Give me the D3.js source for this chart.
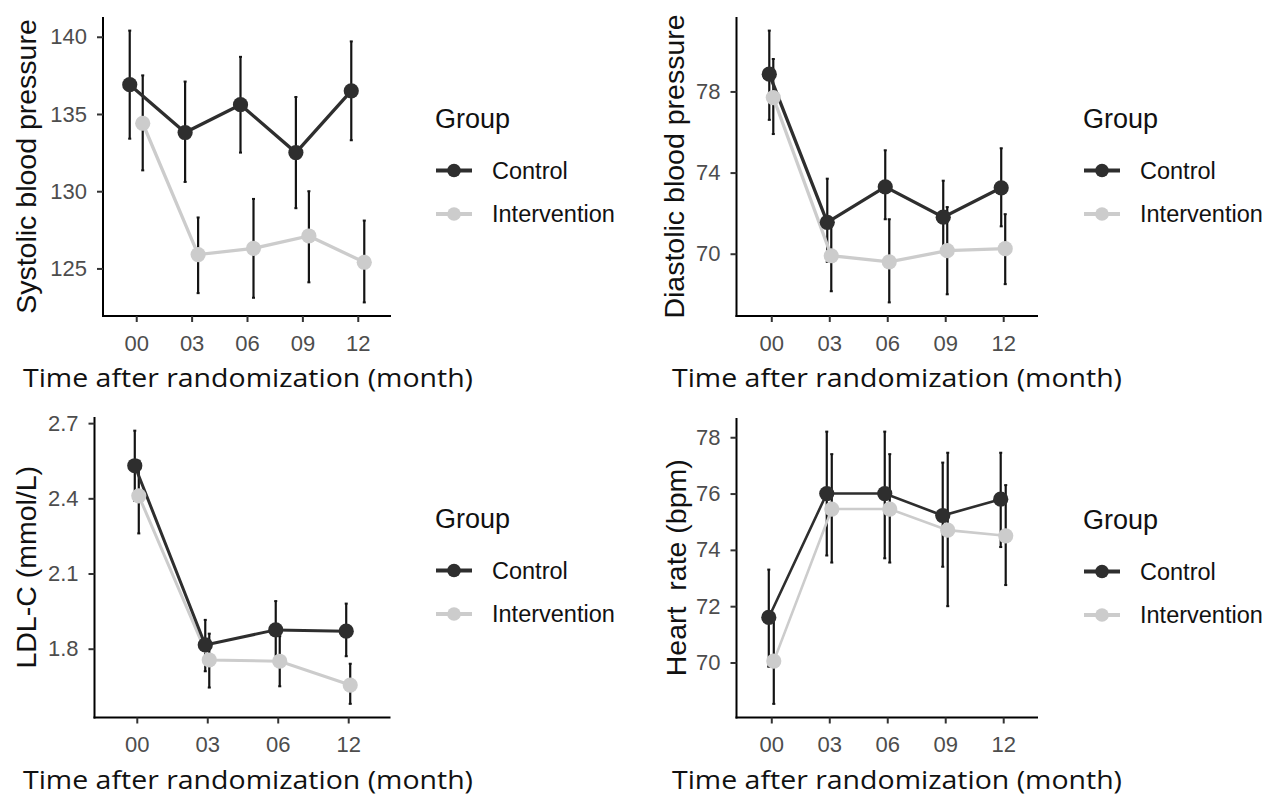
<!DOCTYPE html>
<html>
<head>
<meta charset="utf-8">
<script src="https://cdn.jsdelivr.net/npm/d3@7"></script>
<style>
  body { margin: 0; background: #fff; }
  svg { display: block; }
</style>
</head>
<body>
<div id="graph"></div>
<script>
// categories
const months5 = ["00", "03", "06", "09", "12"];
const months4 = ["00", "03", "06", "12"];
const groupNames = ["Control", "Intervention"];

// each entry: [mean, lower, upper]
const sbpControl      = [[136.9, 133.4, 140.4], [133.8, 130.6, 137.1], [135.6, 132.5, 138.7], [132.5, 128.9, 136.1], [136.5, 133.3, 139.7]];
const sbpIntervention = [[134.4, 131.35, 137.5], [125.9, 123.4, 128.3], [126.3, 123.1, 129.5], [127.1, 124.1, 130.0], [125.4, 122.8, 128.1]];

const dbpControl      = [[78.85, 76.6, 81.0], [71.55, 69.6, 73.7], [73.3, 71.7, 75.1], [71.8, 70.0, 73.6], [73.25, 71.35, 75.2]];
const dbpIntervention = [[77.7, 75.9, 79.6], [69.9, 68.15, 71.7], [69.6, 67.6, 71.7], [70.15, 68.0, 72.3], [70.25, 68.5, 71.95]];

const ldlControl      = [[2.53, 2.39, 2.67], [1.815, 1.71, 1.915], [1.875, 1.76, 1.99], [1.87, 1.77, 1.98]];
const ldlIntervention = [[2.41, 2.26, 2.55], [1.755, 1.645, 1.86], [1.75, 1.65, 1.85], [1.655, 1.58, 1.74]];

const hrControl      = [[71.6, 69.85, 73.3], [76.0, 73.8, 78.2], [76.0, 73.7, 78.2], [75.22, 73.4, 77.1], [75.8, 74.1, 77.45]];
const hrIntervention = [[70.05, 68.53, 71.6], [75.45, 73.55, 77.4], [75.45, 73.55, 77.4], [74.7, 72.0, 77.45], [74.5, 72.75, 76.3]];

// tick labels
const sbpTicks = [125, 130, 135, 140];
const dbpTicks = [70, 74, 78];
const ldlTicks = [1.8, 2.1, 2.4, 2.7];
const hrTicks  = [70, 72, 74, 76, 78];

const colors = ["#2e2e2e", "#cccccc"];
const W = 1266, H = 798;

const svg = d3.select("#graph").append("svg")
    .attr("width", W)
    .attr("height", H);

svg.append("rect").attr("width", W).attr("height", H).attr("fill", "#fff");

const panels = [
  {ylab: "Systolic blood pressure", months: months5, series: [sbpControl, sbpIntervention], ticks: sbpTicks, fmt: d3.format("d"),
   x0: 103, x1: 391, y0: 17, y1: 316, dodge: 6.5, lw: 3.3, legX: 435, xlabX: 248, ylabX: 35.5},
  {ylab: "Diastolic blood pressure", months: months5, series: [dbpControl, dbpIntervention], ticks: dbpTicks, fmt: d3.format("d"),
   x0: 736.5, x1: 1038, y0: 17, y1: 316, dodge: 2, lw: 3.3, legX: 1083, xlabX: 897, ylabX: 684},
  {ylab: "LDL-C (mmol/L)", months: months4, series: [ldlControl, ldlIntervention], ticks: ldlTicks, fmt: d3.format(".1f"),
   x0: 94.5, x1: 390.5, y0: 417, y1: 717.5, dodge: 2, lw: 3, legX: 435, xlabX: 248, ylabX: 35.5},
  {ylab: "Heart  rate (bpm)", months: months5, series: [hrControl, hrIntervention], ticks: hrTicks, fmt: d3.format("d"),
   x0: 736.5, x1: 1038, y0: 418, y1: 717.5, dodge: 2.5, lw: 2.6, legX: 1083, xlabX: 897, ylabX: 685.5}
];

panels.forEach(function(p) {
  const g = svg.append("g");

  const x = d3.scalePoint()
      .domain(p.months)
      .range([p.x0, p.x1])
      .padding(0.6);

  const lo = d3.min(p.series, s => d3.min(s, d => d[1]));
  const hi = d3.max(p.series, s => d3.max(s, d => d[2]));
  const pad = (hi - lo) * 0.05;
  const y = d3.scaleLinear()
      .domain([lo - pad, hi + pad])
      .range([p.y1, p.y0]);

  // axes
  const xAxis = g.append("g")
      .attr("transform", "translate(0," + p.y1 + ")")
      .call(d3.axisBottom(x).tickSize(6).tickSizeOuter(0).tickPadding(13));
  const yAxis = g.append("g")
      .attr("transform", "translate(" + p.x0 + ",0)")
      .call(d3.axisLeft(y).tickValues(p.ticks).tickFormat(p.fmt).tickSize(6).tickSizeOuter(0).tickPadding(10));

  [xAxis, yAxis].forEach(function(a) {
    a.select(".domain").attr("stroke", "#000").attr("stroke-width", 2);
    a.selectAll(".tick line").attr("stroke", "#333").attr("stroke-width", 2);
    a.selectAll(".tick text")
        .attr("font-family", "'Liberation Sans', Arial, sans-serif")
        .attr("font-size", "22px")
        .attr("fill", "#4d4d4d");
  });
  // extend axis lines so the L corner closes
  xAxis.select(".domain").attr("d", "M" + (p.x0 - 1) + ",0H" + p.x1);
  yAxis.select(".domain").attr("d", "M0," + p.y0 + "V" + (p.y1 + 1));

  const rows = p.series.map(function(s, gi) {
    return s.map(function(d, i) {
      return {m: p.months[i], mean: d[0], lo: d[1], hi: d[2], g: gi};
    });
  });
  const xo = d => x(d.m) + (d.g === 0 ? -p.dodge : p.dodge);

  // error bars
  const bars = g.append("g").selectAll("g.bar")
      .data(rows.flat())
      .enter()
      .append("g");
  bars.append("line")
      .attr("x1", xo).attr("x2", xo)
      .attr("y1", d => y(d.lo)).attr("y2", d => y(d.hi))
      .attr("stroke", "#141414").attr("stroke-width", 2.2);
  bars.append("line")
      .attr("x1", d => xo(d) - 1.5).attr("x2", d => xo(d) + 1.5)
      .attr("y1", d => y(d.lo)).attr("y2", d => y(d.lo))
      .attr("stroke", "#141414").attr("stroke-width", 2);
  bars.append("line")
      .attr("x1", d => xo(d) - 1.5).attr("x2", d => xo(d) + 1.5)
      .attr("y1", d => y(d.hi)).attr("y2", d => y(d.hi))
      .attr("stroke", "#141414").attr("stroke-width", 2);

  // lines and points, intervention first so control sits on top
  const line = d3.line().x(xo).y(d => y(d.mean));
  [1, 0].forEach(function(gi) {
    g.append("path")
        .datum(rows[gi])
        .attr("d", line)
        .attr("fill", "none")
        .attr("stroke", colors[gi])
        .attr("stroke-width", p.lw);
  });
  [1, 0].forEach(function(gi) {
    g.append("g").selectAll("circle")
        .data(rows[gi])
        .enter()
        .append("circle")
        .attr("cx", xo)
        .attr("cy", d => y(d.mean))
        .attr("r", 7.6)
        .attr("fill", colors[gi]);
  });

  // axis titles
  g.append("text")
      .attr("x", p.xlabX)
      .attr("y", p.y1 + 71)
      .attr("text-anchor", "middle")
      .attr("font-family", "'Open Sans', 'Noto Sans', sans-serif")
      .attr("font-size", "25px")
      .attr("fill", "#111")
      .attr("textLength", 450)
      .attr("lengthAdjust", "spacingAndGlyphs")
      .text("Time after randomization (month)");

  g.append("text")
      .attr("transform", "translate(" + p.ylabX + "," + ((p.y0 + p.y1) / 2) + ") rotate(-90)")
      .attr("text-anchor", "middle")
      .attr("font-family", "'Liberation Sans', Arial, sans-serif")
      .attr("font-size", "28.5px")
      .attr("fill", "#111")
      .style("white-space", "pre")
      .text(p.ylab);

  // legend
  const leg = g.append("g").attr("transform", "translate(" + p.legX + "," + p.y0 + ")");
  leg.append("text")
      .attr("x", 0).attr("y", 111)
      .attr("font-family", "'Liberation Sans', Arial, sans-serif")
      .attr("font-size", "27px")
      .attr("fill", "#111")
      .text("Group");
  const keys = leg.selectAll("g.key")
      .data(groupNames)
      .enter()
      .append("g")
      .attr("transform", (d, i) => "translate(0," + (153.5 + i * 43.5) + ")");
  keys.append("line")
      .attr("x1", 1).attr("x2", 37)
      .attr("stroke", (d, i) => colors[i])
      .attr("stroke-width", 4);
  keys.append("circle")
      .attr("cx", 19).attr("r", 6.8)
      .attr("fill", (d, i) => colors[i]);
  keys.append("text")
      .attr("x", 57).attr("dy", "0.35em")
      .attr("font-family", "'Liberation Sans', Arial, sans-serif")
      .attr("font-size", "23.5px")
      .attr("fill", "#111")
      .text(d => d);
});
</script>
</body>
</html>
